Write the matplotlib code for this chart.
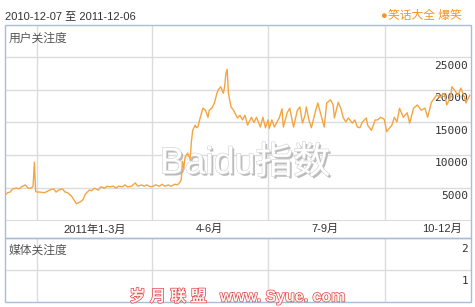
import numpy as np
import matplotlib.pyplot as plt
import matplotlib.patheffects as pe
from matplotlib.patches import Rectangle

plt.rcParams['font.family'] = ['Liberation Sans', 'Noto Sans CJK SC']

# daily search index (day offset from 2010-12-07)
start = np.datetime64('2010-12-07')
day_offsets = [
    0, 2, 4, 6, 9, 11, 13, 16, 18, 20, 21, 22, 23, 24, 25,
    27, 31, 35, 38, 40, 42, 45, 47, 49, 52, 54, 56, 59, 61, 63, 66, 68, 70,
    73, 75, 78, 80, 82, 85, 87, 89, 92, 94, 96, 99, 102, 104, 107, 109, 111, 114,
    116, 118, 121, 123, 125, 128, 130, 133, 135, 137, 138, 139, 140, 141, 143,
    144, 145, 146, 147, 149, 150, 151, 153, 155, 157, 159, 160, 162, 164, 166,
    167, 169, 171, 172, 173, 174, 175, 177, 179, 181, 182, 184, 186, 188, 190,
    193, 195, 197, 200, 202, 204, 206,
    207, 209, 211, 215, 217, 218, 221, 223, 226, 229, 231, 233, 235, 236, 238,
    240, 243, 245, 247, 250, 252, 255, 257, 258, 261, 263, 265, 267, 269, 272,
    274, 276, 278, 280, 283, 284, 287, 290, 292, 294, 297, 299,
    303, 305, 307, 309, 312, 315, 317, 320, 323, 326, 329, 331, 334, 338, 341,
    344, 346, 349, 350, 352, 355, 357, 360, 361, 363, 364,
]
user_index = [
    3800, 4200, 4300, 4800, 4900, 4800, 5100, 5400, 4900, 4900, 5000, 5200, 8900, 4400, 4300,
    4300, 4200, 4600, 4800, 4300, 4600, 4800, 4300, 4200, 3700, 3100, 2500, 2800, 3100, 4000, 4600, 4500, 4900,
    4600, 5100, 4900, 5200, 5100, 5200, 4900, 5200, 5100, 5400, 5100, 5200, 5700, 5200, 5400, 5200, 5400, 5100,
    5200, 5400, 5200, 5500, 5200, 5400, 5200, 5500, 5400, 5800, 6200, 9000, 8000, 9600, 10300,
    9800, 9400, 12000, 13800, 14600, 14200, 14300, 15800, 17200, 16900, 15800, 16900, 17200, 18000, 19500,
    20000, 20500, 19500, 20500, 22500, 23200, 19500, 17400, 16900, 16100, 15700, 16100, 15400, 16100, 14600,
    15800, 15000, 15800, 14300, 15800, 14200, 15400,
    14100, 15400, 14300, 15800, 17100, 14300, 16500, 17200, 14300, 16900, 17400, 14900, 16100, 17400, 15400,
    14200, 16600, 18000, 16500, 14300, 18000, 18500, 17700, 15700, 18100, 17200, 15700, 15100, 15700, 14900,
    15400, 14300, 14200, 15100, 15700, 14600, 13800, 15400, 15400, 15800, 15500, 13600,
    14600, 15800, 15100, 17200, 15800, 16500, 14900, 17200, 17700, 16900, 17200, 15800, 18100, 19200, 18900,
    19500, 17700, 18900, 20500, 20000, 19200, 20300, 18800, 18000, 18800, 19200,
]
dates = start + np.array(day_offsets).astype('timedelta64[D]')

quarter_starts = ['2011-01-01', '2011-04-01', '2011-07-01', '2011-10-01']
quarter_mids = ['2011-02-15', '2011-05-16', '2011-08-15', '2011-11-14']
quarter_labels = ['2011年1-3月', '4-6月', '7-9月', '10-12月']
user_ticks = [5000, 10000, 15000, 20000, 25000]
media_ticks = [1, 2]

W, H = 475, 307
grid = '#dcdcdc'
box = '#a9bed6'
line_color = '#f5a540'
orange = '#f7941d'


def fx(px):
    return px / W


def fy(py):
    return 1 - py / H


fig = plt.figure(figsize=(W / 100, H / 100), dpi=100)
xlim = (start, start + np.timedelta64(365, 'D'))

# top panel: user attention
ax1 = fig.add_axes([fx(5), fy(220), fx(471) - fx(5), fy(25) - fy(220)])
ax1.set_xlim(*xlim)
ax1.set_ylim(0, 30000)
for s in ax1.spines.values():
    s.set_visible(False)
ax1.spines['bottom'].set_visible(True)
ax1.spines['bottom'].set_color(grid)
for q in quarter_starts:
    ax1.axvline(np.datetime64(q), color=grid, lw=1, zorder=0)
for v in user_ticks:
    ax1.axhline(v, color=grid, lw=1, zorder=0)
    ax1.annotate(str(v), xy=(1, v), xycoords=('axes fraction', 'data'),
                 xytext=(-2, -2.5), textcoords='offset points', ha='right', va='top',
                 family='DejaVu Sans Mono', fontsize=8, color='#333333')
ax1.set_yticks([])
ax1.set_xticks(np.array(quarter_mids, dtype='datetime64[D]'), quarter_labels)
ax1.tick_params(axis='x', length=0, pad=3, labelsize=8, labelcolor='#333333')
ax1.text(0.007, 0.93, '用户关注度', transform=ax1.transAxes, fontsize=8.5,
         color='#555555', va='center', ha='left')
ax1.text(0.515, 0.29, 'Baidu指数', transform=ax1.transAxes, fontsize=27,
         color='white', ha='center', va='center', zorder=1,
         path_effects=[pe.withSimplePatchShadow(offset=(1.5, -1.5), shadow_rgbFace='#b5b5b5', alpha=0.9),
                       pe.Stroke(linewidth=0.8, foreground='#cfcfcf'), pe.Normal()])
ax1.plot(dates, user_index, color=line_color, lw=1, zorder=3)

# bottom panel: media attention
ax2 = fig.add_axes([fx(5), fy(302), fx(471) - fx(5), fy(238) - fy(302)])
ax2.set_xlim(*xlim)
ax2.set_ylim(0, 2)
for s in ax2.spines.values():
    s.set_visible(False)
for q in quarter_starts:
    ax2.axvline(np.datetime64(q), color=grid, lw=1, zorder=0)
ax2.axhline(1, color=grid, lw=1, zorder=0)
for v in media_ticks:
    ax2.annotate(str(v), xy=(1, v), xycoords=('axes fraction', 'data'),
                 xytext=(-2, -4), textcoords='offset points', ha='right', va='top',
                 family='DejaVu Sans Mono', fontsize=8, color='#333333')
ax2.set_xticks([])
ax2.set_yticks([])
ax2.text(0.007, 0.8, '媒体关注度', transform=ax2.transAxes, fontsize=8.5,
         color='#555555', va='center', ha='left')

# outer boxes
for top, bottom in [(25, 238), (238, 302)]:
    fig.patches.append(Rectangle((fx(5), fy(bottom)), fx(471) - fx(5), fy(top) - fy(bottom),
                                 transform=fig.transFigure, fill=False, edgecolor=box, lw=1))

# header
fig.text(fx(5), fy(16), '2010-12-07 至 2011-12-06', fontsize=8, color='#333333', va='center')
fig.text(fx(383), fy(16), '●', fontsize=8, color=orange, va='center', ha='center')
fig.text(fx(388), fy(16), '笑话大全 爆笑', fontsize=8.5, color=orange, va='center')

# site watermark
fig.text(fx(238), fy(296), '岁 月 联 盟   www. Syue. com', fontsize=11.5, weight='bold',
         color='#fff4f4', ha='center', va='center',
         path_effects=[pe.Stroke(linewidth=1.0, foreground='#e04444'), pe.Normal()])

fig.savefig('out.png', dpi=100)
